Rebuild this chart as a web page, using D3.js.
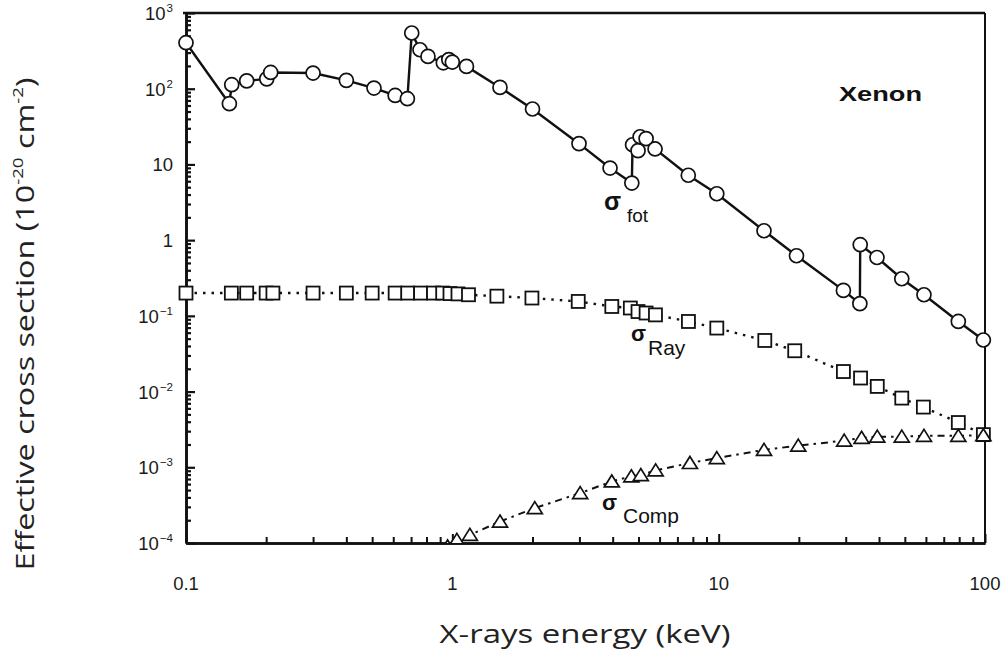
<!DOCTYPE html>
<html>
<head>
<meta charset="utf-8">
<script src="https://cdn.jsdelivr.net/npm/d3@7/dist/d3.min.js"></script>
<style>
  html, body { margin: 0; padding: 0; background: #fff; }
  svg { display: block; }
</style>
</head>
<body>
<svg id="chart" width="1008" height="656"></svg>
<script>
// Xenon: photoelectric, Rayleigh and Compton cross sections vs X-ray energy

// Photoelectric (σ_fot) — energy in keV, cross section in 10^-20 cm^2
const photoEnergy = [0.1, 0.1455, 0.1485, 0.169, 0.201, 0.208, 0.30, 0.40, 0.508, 0.61, 0.678,
  0.704, 0.756, 0.81, 0.925, 0.97, 1.0, 1.13, 1.51, 2.0, 2.99, 3.91, 4.72,
  4.75, 4.98, 5.07, 5.34, 5.77, 7.69, 9.84, 14.8, 19.6, 29.4, 33.9,
  34.0, 39.3, 48.7, 59.0, 79.4, 98.6];
const photoValue = [405, 63.4, 113, 127, 135, 164, 161, 129, 102, 81.5, 73.8,
  544, 327, 267, 220, 242, 225, 197, 104, 54, 18.8, 8.96, 5.68,
  18.2, 15.2, 23.2, 21.9, 16.0, 7.2, 4.1, 1.33, 0.622, 0.217, 0.145,
  0.87, 0.59, 0.309, 0.19, 0.0843, 0.048];

// Rayleigh (σ_Ray)
const rayEnergy = [0.1, 0.148, 0.169, 0.2, 0.212, 0.3, 0.4, 0.5, 0.61, 0.68, 0.76, 0.85, 0.92,
  0.98, 1.05, 1.15, 1.47, 1.99, 2.97, 3.97, 4.66, 4.98, 5.34, 5.79, 7.7, 9.84,
  14.9, 19.3, 29.4, 34.1, 39.4, 48.7, 58.7, 79.4, 98.6];
const rayValue = [0.2, 0.2, 0.2, 0.2, 0.2, 0.2, 0.2, 0.2, 0.2, 0.2, 0.2, 0.2, 0.2,
  0.197, 0.195, 0.19, 0.182, 0.172, 0.155, 0.133, 0.127, 0.114, 0.109, 0.103, 0.0843, 0.069,
  0.0473, 0.0346, 0.0184, 0.0151, 0.0117, 0.0082, 0.00624, 0.0039, 0.0027];

// Compton (σ_Comp)
const compEnergy = [0.96, 1.04, 1.164, 1.51, 2.04, 3.02, 3.97, 4.7, 5.1, 5.8, 7.8, 9.84,
  14.8, 19.9, 29.6, 34.4, 39.4, 48.7, 59, 79.4, 98.6];
const compValue = [0.9e-4, 1.1e-4, 1.28e-4, 1.92e-4, 2.89e-4, 4.56e-4, 6.5e-4, 7.6e-4, 7.9e-4, 9.1e-4,
  1.14e-3, 1.32e-3, 1.70e-3, 1.93e-3, 2.25e-3, 2.45e-3, 2.54e-3, 2.54e-3, 2.6e-3, 2.6e-3, 2.65e-3];

// Axis ticks and labels
const xTickValues = [0.1, 1, 10, 100];
const xTickLabels = ["0.1", "1", "10", "100"];
const yTickValues = [1e-4, 1e-3, 1e-2, 1e-1, 1, 10, 100, 1000];
const yTickBases = ["10", "10", "10", "10", "1", "10", "10", "10"];
const yTickExps = ["-4", "-3", "-2", "-1", "", "", "2", "3"];

const xTitle = "X-rays energy (keV)";
const chartName = "Xenon";

const svg = d3.select("#chart");
const plotLeft = 186, plotRight = 985, plotTop = 13, plotBottom = 543;

const x = d3.scaleLog().domain([0.1, 100]).range([plotLeft, plotRight]);
const y = d3.scaleLog().domain([1e-4, 1e3]).range([plotBottom, plotTop]);

const ink = "#111";

// minor tick positions per decade
function minors(lo, hi) {
  const out = [];
  for (let d = lo; d < hi * 0.999; d *= 10) for (let k = 2; k <= 9; k++) out.push(d * k);
  return out;
}

svg.append("defs").append("clipPath").attr("id", "plotClip")
  .append("rect").attr("x", plotLeft - 10).attr("y", plotTop - 10)
  .attr("width", plotRight - plotLeft + 20).attr("height", plotBottom - plotTop + 10);

// frame (top and right)
svg.append("line").attr("x1", plotLeft - 3).attr("x2", plotRight).attr("y1", plotTop).attr("y2", plotTop)
  .attr("stroke", ink).attr("stroke-width", 2.5);
svg.append("line").attr("x1", plotRight).attr("x2", plotRight).attr("y1", plotTop).attr("y2", plotBottom)
  .attr("stroke", ink).attr("stroke-width", 2);

// left axis: inward ticks
const yAxisMajor = d3.axisLeft(y).tickValues(yTickValues).tickSizeInner(-9).tickSizeOuter(0).tickFormat("");
const yAxisMinor = d3.axisLeft(y).tickValues(minors(1e-4, 1e3)).tickSizeInner(-5).tickSizeOuter(0).tickFormat("");
const gy = svg.append("g").attr("transform", `translate(${plotLeft},0)`);
gy.call(yAxisMinor);
gy.append("g").call(yAxisMajor);
gy.selectAll("path.domain").attr("stroke", ink).attr("stroke-width", 2.6);
gy.selectAll(".tick line").attr("stroke", ink).attr("stroke-width", 2.2);

// bottom axis: inward ticks
const xAxisMajor = d3.axisBottom(x).tickValues(xTickValues).tickSizeInner(-9).tickSizeOuter(0).tickFormat("");
const xAxisMinor = d3.axisBottom(x).tickValues(minors(0.1, 100)).tickSizeInner(-6).tickSizeOuter(0).tickFormat("");
const gx = svg.append("g").attr("transform", `translate(0,${plotBottom})`);
gx.call(xAxisMinor);
gx.append("g").call(xAxisMajor);
gx.selectAll("path.domain").attr("stroke", ink).attr("stroke-width", 2.6);
gx.selectAll(".tick line").attr("stroke", ink).attr("stroke-width", 2);

// tick labels
const labelFont = "'Liberation Sans', Arial, sans-serif";
yTickValues.forEach((v, i) => {
  const t = svg.append("text")
    .attr("x", 173).attr("y", y(v) + 7)
    .attr("text-anchor", "end")
    .attr("font-family", labelFont).attr("font-size", 18.5).attr("fill", "#1a1a1a");
  t.append("tspan").text(yTickBases[i]);
  if (yTickExps[i]) {
    t.append("tspan").attr("font-size", 11.5).attr("dy", -8).attr("dx", 1).text(yTickExps[i].replace("-", "\u2212"));
  }
});
xTickValues.forEach((v, i) => {
  svg.append("text")
    .attr("x", x(v)).attr("y", 590)
    .attr("text-anchor", "middle")
    .attr("font-family", labelFont).attr("font-size", 18.5).attr("fill", "#1a1a1a")
    .text(xTickLabels[i]);
});

// series lines
const line = d3.line().x(d => x(d[0])).y(d => y(d[1]));
const photo = photoEnergy.map((e, i) => [e, photoValue[i]]);
const ray = rayEnergy.map((e, i) => [e, rayValue[i]]);
const comp = compEnergy.map((e, i) => [e, compValue[i]]);

const plot = svg.append("g").attr("clip-path", "url(#plotClip)");

plot.append("path").datum(ray).attr("d", line).attr("fill", "none")
  .attr("stroke", ink).attr("stroke-width", 2.4).attr("stroke-dasharray", "2.5,6");
plot.append("path").datum(comp).attr("d", line).attr("fill", "none")
  .attr("stroke", ink).attr("stroke-width", 2).attr("stroke-dasharray", "7,5,2.5,5");
plot.append("path").datum(photo).attr("d", line).attr("fill", "none")
  .attr("stroke", ink).attr("stroke-width", 2.4);

// markers
plot.selectAll("rect.ray").data(ray).enter().append("rect").attr("class", "ray")
  .attr("x", d => x(d[0]) - 6.5).attr("y", d => y(d[1]) - 6.5)
  .attr("width", 13).attr("height", 13)
  .attr("fill", "#fff").attr("stroke", ink).attr("stroke-width", 1.8);

plot.selectAll("path.comp").data(comp).enter().append("path").attr("class", "comp")
  .attr("transform", d => `translate(${x(d[0])},${y(d[1])})`)
  .attr("d", "M0,-6.5L7.5,5.5L-7.5,5.5Z")
  .attr("fill", "#fff").attr("stroke", ink).attr("stroke-width", 1.7);

plot.selectAll("circle.photo").data(photo).enter().append("circle").attr("class", "photo")
  .attr("cx", d => x(d[0])).attr("cy", d => y(d[1])).attr("r", 7)
  .attr("fill", "#fff").attr("stroke", ink).attr("stroke-width", 1.7);

// series labels
function sigmaLabel(sx, sy, sub, subX, subY, sigmaSize, subSize) {
  svg.append("text").attr("x", sx).attr("y", sy)
    .attr("font-family", labelFont).attr("font-size", sigmaSize).attr("font-weight", "bold")
    .attr("fill", ink).text("\u03C3");
  svg.append("text").attr("x", subX).attr("y", subY)
    .attr("font-family", labelFont).attr("font-size", subSize)
    .attr("fill", ink).text(sub);
}
sigmaLabel(604, 210, "fot", 627, 222, 25, 19);
sigmaLabel(631, 341, "Ray", 648, 355, 22, 21);
sigmaLabel(602, 510, "Comp", 623, 523, 22, 21);

svg.append("text").attr("x", 839).attr("y", 101)
  .attr("font-family", labelFont).attr("font-size", 21).attr("font-weight", "bold")
  .attr("fill", ink).attr("textLength", 83).attr("lengthAdjust", "spacingAndGlyphs")
  .text(chartName);

// axis titles
const titleFont = "'Open Sans', 'Noto Sans', sans-serif";
svg.append("text").attr("x", 585).attr("y", 643)
  .attr("text-anchor", "middle")
  .attr("font-family", titleFont).attr("font-size", 26).attr("fill", "#222")
  .attr("textLength", 291).attr("lengthAdjust", "spacingAndGlyphs")
  .text(xTitle);

const yt = svg.append("text")
  .attr("transform", "translate(34,324) rotate(-90)")
  .attr("text-anchor", "middle")
  .attr("font-family", titleFont).attr("font-size", 26).attr("fill", "#222")
  .attr("textLength", 493).attr("lengthAdjust", "spacingAndGlyphs");
yt.append("tspan").text("Effective cross section (10");
yt.append("tspan").attr("font-size", 15).attr("dy", -11).text("-20");
yt.append("tspan").attr("dy", 11).text(" cm");
yt.append("tspan").attr("font-size", 15).attr("dy", -11).text("-2");
yt.append("tspan").attr("dy", 11).text(")");
</script>
</body>
</html>
